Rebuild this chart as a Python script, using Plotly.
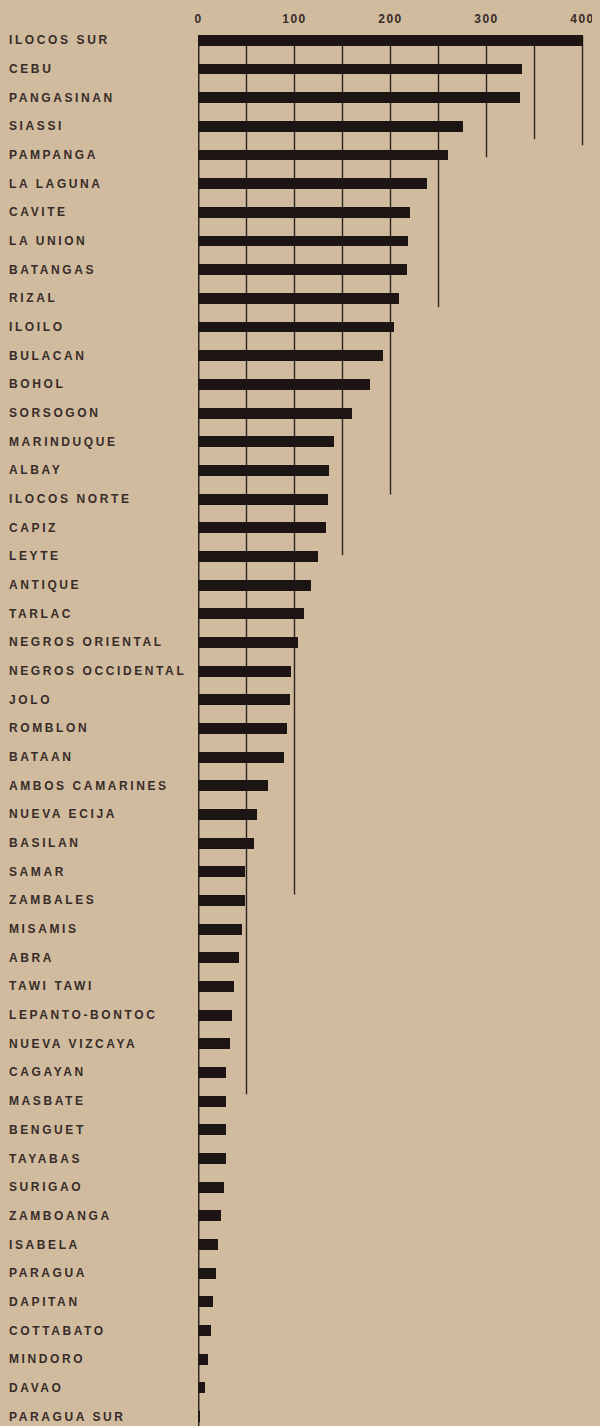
import plotly.graph_objects as go

provinces = [
    "ILOCOS SUR", "CEBU", "PANGASINAN", "SIASSI", "PAMPANGA", "LA LAGUNA",
    "CAVITE", "LA UNION", "BATANGAS", "RIZAL", "ILOILO", "BULACAN", "BOHOL",
    "SORSOGON", "MARINDUQUE", "ALBAY", "ILOCOS NORTE", "CAPIZ", "LEYTE",
    "ANTIQUE", "TARLAC", "NEGROS ORIENTAL", "NEGROS OCCIDENTAL", "JOLO",
    "ROMBLON", "BATAAN", "AMBOS CAMARINES", "NUEVA ECIJA", "BASILAN", "SAMAR",
    "ZAMBALES", "MISAMIS", "ABRA", "TAWI TAWI", "LEPANTO-BONTOC",
    "NUEVA VIZCAYA", "CAGAYAN", "MASBATE", "BENGUET", "TAYABAS", "SURIGAO",
    "ZAMBOANGA", "ISABELA", "PARAGUA", "DAPITAN", "COTTABATO", "MINDORO",
    "DAVAO", "PARAGUA SUR",
]
values = [
    400, 337, 335, 275, 260, 238,
    220, 218, 217, 209, 204, 192, 179,
    160, 141, 136, 135, 133, 124,
    117, 110, 104, 96, 95,
    92, 89, 72, 61, 58, 48,
    48, 45, 42, 37, 35,
    33, 29, 29, 28.6, 28.6, 26.6,
    23, 20.7, 18, 15, 12.7, 10,
    6.8, 1.5,
]
tick_values = [0, 100, 200, 300, 400]
tick_labels = ["0", "100", "200", "300", "400"]
# vertical rule lines: value and the row position where each line stops
rule_values = [0, 50, 100, 150, 200, 250, 300, 350, 400]
rule_ends = [48.4, 36.76, 29.79, 17.96, 15.84, 9.31, 4.08, 3.45, 3.66]

INK = "#1c1513"
TEXT = "#372c28"
PAPER = "#d0bb9f"

rows = list(range(len(provinces)))

fig = go.Figure()

for v, e in zip(rule_values, rule_ends):
    fig.add_shape(
        type="line", xref="x", yref="y", x0=v, x1=v, y0=-0.17, y1=e,
        line=dict(color="#2e2420", width=2 if v == 0 else 1.4),
        layer="below",
    )

fig.add_trace(go.Bar(
    x=values, y=rows, orientation="h", width=0.38,
    marker=dict(color=INK, line=dict(width=0)),
    hoverinfo="skip",
))

for r, name in zip(rows, provinces):
    fig.add_annotation(
        x=-0.476, xref="paper", y=r, yref="y",
        text='<span style="letter-spacing:2.6px">' + name + '</span>',
        xanchor="left", yanchor="middle", showarrow=False,
        font=dict(family="Liberation Sans, Arial, sans-serif", size=12, color=TEXT, weight="bold"),
    )

fig.update_layout(
    width=592, height=1418,
    margin=dict(l=190, r=0, t=18, b=0),
    paper_bgcolor=PAPER, plot_bgcolor=PAPER,
    showlegend=False,
    bargap=0,
    xaxis=dict(
        side="top", range=[-0.5, 418.2], showgrid=False, zeroline=False,
        showline=False, ticks="", tickvals=tick_values,
        ticktext=['<span style="letter-spacing:1.5px">' + t + '</span>' for t in tick_labels],
        tickfont=dict(family="Liberation Sans, Arial, sans-serif", size=12, color=TEXT, weight="bold"),
        fixedrange=True,
    ),
    yaxis=dict(
        range=[48.33, -0.5], showgrid=False, zeroline=False, showline=False,
        showticklabels=False, ticks="", fixedrange=True,
    ),
)

fig.write_html(
    "out.html",
    post_script="document.body.style.background='" + PAPER + "';",
)
